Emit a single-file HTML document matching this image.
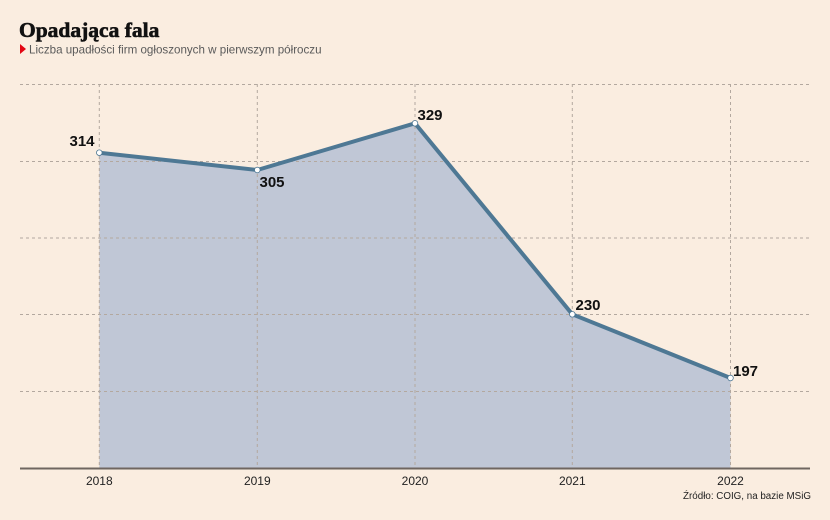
<!DOCTYPE html>
<html><head><meta charset="utf-8"><style>
html,body{margin:0;padding:0;background:#faede0;}
svg{display:block;}
</style></head><body>
<svg width="830" height="520" viewBox="0 0 830 520" xmlns="http://www.w3.org/2000/svg">
<rect width="830" height="520" fill="#faede0"/>
<text x="19" y="37" font-family="Liberation Serif, serif" font-weight="bold" font-size="21.5" fill="#111" stroke="#111" stroke-width="0.6">Opadająca fala</text>
<polygon points="20,44 26,49 20,54" fill="#e30613"/>
<text x="29" y="53.5" font-family="Liberation Sans, sans-serif" font-size="11.6" fill="#5a5a5a">Liczba upadłości firm ogłoszonych w pierwszym półroczu</text>
<polygon points="99.3,152.7 257.3,170 415,123.3 572.3,314.3 730.5,378 730.5,468 99.3,468" fill="#c0c7d6"/>
<g stroke="#b3a89f" stroke-width="1" stroke-dasharray="3,3" fill="none">
<line x1="20" y1="84.5" x2="809" y2="84.5"/>
<line x1="20" y1="161.5" x2="809" y2="161.5"/>
<line x1="20" y1="238" x2="809" y2="238"/>
<line x1="20" y1="314.5" x2="809" y2="314.5"/>
<line x1="20" y1="391.5" x2="809" y2="391.5"/>
<line x1="99.3" y1="84" x2="99.3" y2="468"/>
<line x1="257.3" y1="84" x2="257.3" y2="468"/>
<line x1="415" y1="84" x2="415" y2="468"/>
<line x1="572.3" y1="84" x2="572.3" y2="468"/>
<line x1="730.5" y1="84" x2="730.5" y2="468"/>
</g>
<line x1="20" y1="468.5" x2="810" y2="468.5" stroke="#6f6660" stroke-width="2"/>
<polyline points="99.3,152.7 257.3,170 415,123.3 572.3,314.3 730.5,378" fill="none" stroke="#4e7894" stroke-width="4" stroke-linejoin="round"/>
<g fill="#fff" stroke="#4e7894" stroke-width="0.8">
<circle cx="99.3" cy="152.7" r="2.8"/>
<circle cx="257.3" cy="170" r="2.8"/>
<circle cx="415" cy="123.3" r="2.8"/>
<circle cx="572.3" cy="314.3" r="2.8"/>
<circle cx="730.5" cy="378" r="2.8"/>
</g>
<g font-family="Liberation Sans, sans-serif" font-weight="bold" font-size="15" fill="#111">
<text x="69.5" y="146">314</text>
<text x="259.5" y="187">305</text>
<text x="417.5" y="120">329</text>
<text x="575.5" y="310">230</text>
<text x="733" y="376">197</text>
</g>
<g font-family="Liberation Sans, sans-serif" font-size="12" fill="#222" text-anchor="middle">
<text x="99.3" y="485">2018</text>
<text x="257.3" y="485">2019</text>
<text x="415" y="485">2020</text>
<text x="572.3" y="485">2021</text>
<text x="730.5" y="485">2022</text>
</g>
<text x="811" y="499" text-anchor="end" font-family="Liberation Sans, sans-serif" font-size="9.8" fill="#222">Źródło: COIG, na bazie MSiG</text>
</svg>
</body></html>
